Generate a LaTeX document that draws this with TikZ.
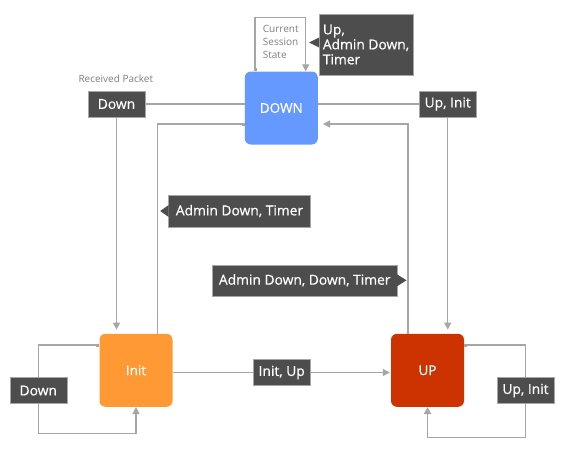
\documentclass[tikz,border=0pt]{standalone}
\usepackage{fontspec}
\setmainfont{Open Sans}
\newfontfamily\medfont{Open Sans}[FakeBold=0.6]
\usetikzlibrary{arrows.meta}
\definecolor{linegray}{HTML}{A6A6A6}
\definecolor{darkbox}{HTML}{4D4D4D}
\definecolor{downblue}{HTML}{6699FF}
\definecolor{initorange}{HTML}{FF9933}
\definecolor{upred}{HTML}{CC3300}
\definecolor{smallgray}{HTML}{7F7F7F}
\begin{document}
\begin{tikzpicture}[x=1pt,y=-1pt,
  conn/.style={draw=linegray,line width=1.3pt},
  arr/.style={-{Triangle[length=7pt,width=7pt]}},
  sqarr/.style={{Square[length=3pt,width=3pt]}-{Triangle[length=7pt,width=7pt]}},
  sqstart/.style={{Square[length=3pt,width=3pt]}-},
  sqend/.style={-{Square[length=3pt,width=3pt]}},
  state/.style={rounded corners=6pt,minimum width=73pt,minimum height=73pt,inner sep=0pt,text=white,font=\medfont\fontsize{13.5}{16}\selectfont},
  lbl/.style={fill=darkbox,draw=linegray,line width=0.6pt,text=white,inner sep=0pt,font=\medfont\fontsize{13.8}{15}\selectfont},
  lblsm/.style={lbl,minimum width=57pt,minimum height=26pt},
  note/.style={text=smallgray,font=\fontsize{10}{13}\selectfont,inner sep=0pt}]
\useasboundingbox (0,0) rectangle (572,455);
\fill[white] (0,0) rectangle (572,455);

% states
\node[state,fill=downblue] (down) at (281.3,108) {DOWN};
\node[state,fill=initorange] (init) at (136,370.3) {Init};
\node[state,fill=upred] (up) at (427.5,370.3) {UP};

% labels
\node[lblsm] (rd) at (116.5,104) {Down};
\node[lblsm] (rui) at (447.7,104) {Up, Init};
\node[lbl,minimum width=94pt,minimum height=61pt,align=left] (cur) at (366,44.5) {Up,\\Admin Down,\\Timer};
\node[lbl,minimum width=142pt,minimum height=32pt] (adt) at (239.5,211) {Admin Down, Timer};
\node[lbl,minimum width=185pt,minimum height=31pt] (addt) at (304.7,280.3) {Admin Down, Down, Timer};
\node[lblsm] (iu) at (281.7,372.5) {Init, Up};
\node[lblsm] (ld) at (38.3,390.5) {Down};
\node[lblsm] (lui) at (525.5,390.5) {Up, Init};

% pointers
\fill[darkbox] (cur.west) ++(0.5,-7) -- ++(-10,5) -- ++(10,5) -- cycle;
\fill[darkbox] (adt.west) ++(0.5,-6) -- ++(-8.5,6) -- ++(8.5,6) -- cycle;
\fill[darkbox] (addt.east) ++(-0.5,-6) -- ++(9.5,6) -- ++(-9.5,6) -- cycle;

% notes
\node[note,align=left,anchor=west] (css) at (262.7,42) {Current\\Session\\State};
\node[note] (rp) at (115.8,79) {Received Packet};

% coordinates for bends
\coordinate (c1) at (157.7,124);
\coordinate (c2) at (408,124);
\coordinate (cl) at (255,17.7);
\coordinate (cr) at (305.7,17.7);
\coordinate (ilt) at (38.3,345);
\coordinate (ilb) at (38.3,433.3);
\coordinate (ult) at (525.5,345);
\coordinate (ulb) at (525.5,437.7);

% connectors
\draw[conn] (rd.east) -- (rd.east -| down.west);
\draw[conn] (rui.west -| down.east) -- (rui.west);
\draw[conn,arr,shorten >=4pt] (rd.south) -- (rd.south |- init.north);
\draw[conn,sqend] (c1 |- init.north) -- (c1) -- (c1 -| down.west);
\draw[conn,arr,shorten >=5pt] (c2 |- up.north) -- (c2) -- (c2 -| down.east);
\draw[conn,arr,shorten >=4pt] (rui.south) -- (rui.south |- up.north);
\draw[conn] (init.east |- iu) -- (iu.west);
\draw[conn,arr,shorten >=1pt] (iu.east) -- (iu.east -| up.west);
\draw[conn,sqarr] (cl |- down.north) -- (cl) -- (cr) -- (cr |- down.north);
\draw[conn,sqstart] (init.west |- ilt) -- (ilt) -- (ld.north);
\draw[conn,arr] (ld.south) -- (ilb) -- (ilb -| init.south) -- (init.south);
\draw[conn,sqstart] (up.east |- ult) -- (ult) -- (lui.north);
\draw[conn,arr] (lui.south) -- (ulb) -- (ulb -| up.south) -- (up.south);
\end{tikzpicture}
\end{document}
